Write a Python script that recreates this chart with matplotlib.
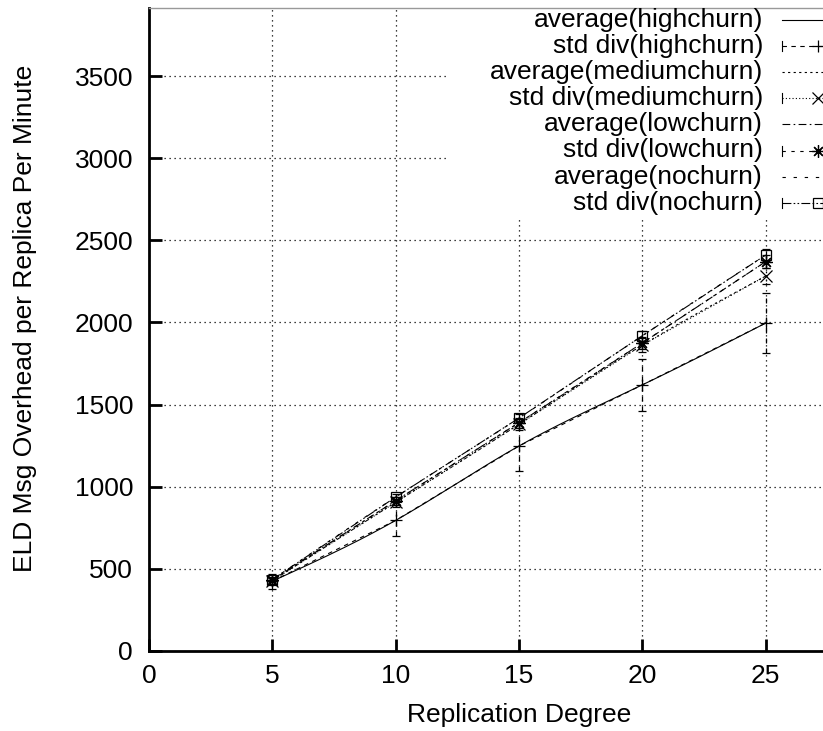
import numpy as np
import matplotlib.pyplot as plt
from matplotlib.lines import Line2D
from matplotlib.patches import Rectangle

plt.rcParams['font.family'] = ['Liberation Sans', 'DejaVu Sans']
plt.rcParams['font.size'] = 19

# replication degree vs. ELD message overhead (mean and std dev per churn level)
degree = [5, 10, 15, 20, 25]

high_avg = [425, 795, 1248, 1620, 1996]
high_std = [45, 95, 150, 160, 185]
medium_avg = [428, 905, 1380, 1862, 2282]
medium_std = [20, 30, 35, 45, 50]
low_avg = [432, 915, 1390, 1875, 2370]
low_std = [15, 25, 30, 35, 40]
no_avg = [435, 937, 1418, 1919, 2410]
no_std = [10, 20, 25, 30, 35]

churn_names = ['highchurn', 'mediumchurn', 'lowchurn', 'nochurn']
x_ticks = [0, 5, 10, 15, 20, 25]
y_ticks = [0, 500, 1000, 1500, 2000, 2500, 3000, 3500]


def csplines(xs, ys, num=200):
    # natural cubic spline through the points, like gnuplot's smooth csplines
    xs = np.asarray(xs, float)
    ys = np.asarray(ys, float)
    n = len(xs)
    h = np.diff(xs)
    A = np.zeros((n, n))
    r = np.zeros(n)
    A[0, 0] = A[-1, -1] = 1
    for i in range(1, n - 1):
        A[i, i - 1] = h[i - 1]
        A[i, i] = 2 * (h[i - 1] + h[i])
        A[i, i + 1] = h[i]
        r[i] = 6 * ((ys[i + 1] - ys[i]) / h[i] - (ys[i] - ys[i - 1]) / h[i - 1])
    m = np.linalg.solve(A, r)
    xx = np.linspace(xs[0], xs[-1], num)
    k = np.clip(np.searchsorted(xs, xx) - 1, 0, n - 2)
    t0 = xx - xs[k]
    t1 = xs[k + 1] - xx
    hk = h[k]
    yy = ((m[k] * t1 ** 3 + m[k + 1] * t0 ** 3) / (6 * hk)
          + (ys[k] / hk - m[k] * hk / 6) * t1
          + (ys[k + 1] / hk - m[k + 1] * hk / 6) * t0)
    return xx, yy


W, H = 823, 731
fig = plt.figure(figsize=(W / 100, H / 100), dpi=100)
# plot area runs past the right edge (x range 0..30)
ax = fig.add_axes([149 / W, (H - 651) / H, 740 / W, 643 / H])

avg_styles = ['-', (0, (2, 3)), (0, (7, 3, 1.5, 3)), (0, (3, 7))]
std_styles = [(0, (4, 4)), (0, (1, 2)), (0, (3, 5)), (0, (8, 2, 1.5, 2, 1.5, 2))]
markers = ['+', 'x', (8, 2, 0), 's']
msizes = [9, 9, 9, 7]

avgs = [high_avg, medium_avg, low_avg, no_avg]
stds = [high_std, medium_std, low_std, no_std]

for i in range(4):
    xx, yy = csplines(degree, avgs[i])
    ax.plot(xx, yy, color='black', lw=0.8, linestyle=avg_styles[i], zorder=3)
    eb = ax.errorbar(degree, avgs[i], yerr=stds[i], color='black', lw=0.8,
                     linestyle=std_styles[i], marker=markers[i], ms=msizes[i],
                     mfc='none', mec='black', mew=0.9, capsize=3,
                     elinewidth=0.9, capthick=0.9, zorder=3)
    eb[2][0].set_linestyle(std_styles[i])

ax.set_xlim(0, 30)
ax.set_ylim(0, 3914)
ax.set_xticks(x_ticks)
ax.set_yticks(y_ticks)
ax.grid(True, color='black', linestyle=(0, (1, 3)), lw=0.9)
ax.set_axisbelow(True)

ax.tick_params(direction='in', length=9, width=2)
ax.tick_params(axis='y', pad=11.5)
ax.tick_params(axis='x', pad=9.5)

ax.spines['left'].set_linewidth(2)
ax.spines['bottom'].set_linewidth(2)
ax.spines['top'].set_linewidth(1)
ax.spines['top'].set_color('0.6')
ax.spines['right'].set_visible(False)

ax.set_xlabel('Replication Degree')
ax.set_ylabel('ELD Msg Overhead per Replica Per Minute')
ax.xaxis.set_label_coords(0.5, -0.081)
ax.yaxis.set_label_coords(-0.151, 0.518)

# key area is opaque, hiding the grid behind it
ax.add_patch(Rectangle(((446 - 149) / 740, (651 - 220) / 643), 1, 1,
                       transform=ax.transAxes, facecolor='white',
                       edgecolor='none', zorder=1))


def fxy(px, py):
    return px / W, 1 - py / H


row = 0
for i, name in enumerate(churn_names):
    for kind in ['average', 'std div']:
        py = 20 + 26.1 * row
        tx, ty = fxy(763, py)
        fig.text(tx, ty, f'{kind}({name})', ha='right', va='center')
        x0, y0 = fxy(782, py)
        x1, _ = fxy(855, py)
        if kind == 'average':
            fig.add_artist(Line2D([x0, x1], [y0, y0], color='black', lw=0.8,
                                  linestyle=avg_styles[i], transform=fig.transFigure))
        else:
            fig.add_artist(Line2D([x0, x1], [y0, y0], color='black', lw=0.8,
                                  linestyle=std_styles[i], transform=fig.transFigure))
            _, yt = fxy(782, py - 5)
            _, yb = fxy(782, py + 5)
            fig.add_artist(Line2D([x0, x0], [yb, yt], color='black', lw=0.8,
                                  transform=fig.transFigure))
            mx, _ = fxy(818, py)
            fig.add_artist(Line2D([mx], [y0], marker=markers[i], ms=msizes[i],
                                  mfc='none', mec='black', mew=0.9,
                                  linestyle='none', transform=fig.transFigure))
        row += 1

fig.savefig('out.png', dpi=100)
